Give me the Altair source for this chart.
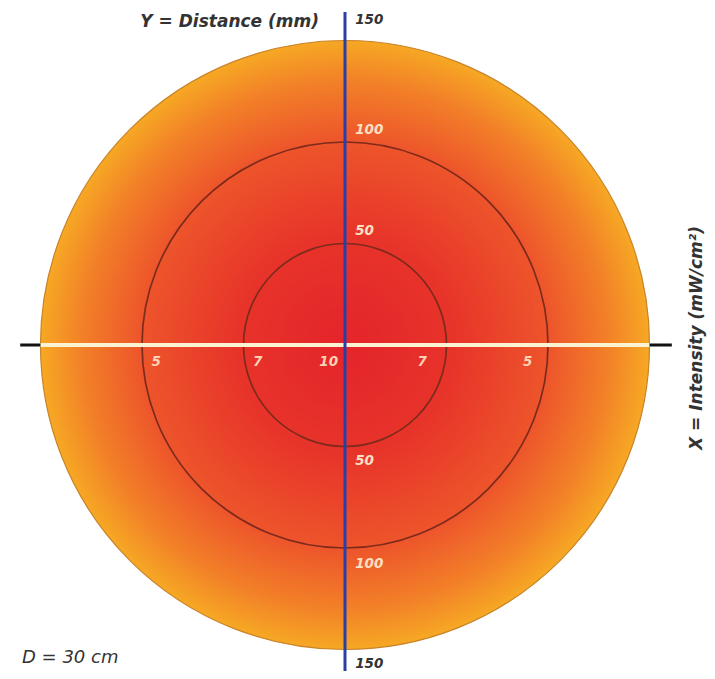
import altair as alt
import pandas as pd

# ---- data ----
outer_radius_mm = [150]
contour_radius_mm = [50, 100]

y_labels = ["150", "100", "50", "50", "100", "150"]
y_label_mm = [160, 106, 56, -57, -108, -157]

x_labels = ["5", "7", "10", "7", "5"]
x_label_mm = [-93, -43, -8, 38, 90]
x_label_row_mm = -8.5

axis_v = {"y1": [164], "y2": [-166]}
axis_h_black = {"x1": [-160], "x2": [161]}
axis_h_white = {"x1": [-150], "x2": [150]}

# ---- scales ----
S = 2.03  # px per mm
W, H = 699, 663
cx, cy = 337, 337
xs = alt.Scale(domain=[-cx / S, (W - cx) / S], range=[0, W], nice=False, zero=False)
ys = alt.Scale(domain=[-(H - cy) / S, cy / S], range=[H, 0], nice=False, zero=False)
rs = alt.Scale(type="linear", domain=[0, 150], range=[0, 150 * S], zero=True)

X = lambda f: alt.X(f, type="quantitative", scale=xs, axis=None)
Y = lambda f: alt.Y(f, type="quantitative", scale=ys, axis=None)

disk_df = pd.DataFrame({"x": [0], "y": [0], "r": outer_radius_mm})
ring_df = pd.DataFrame({"x": [0] * len(contour_radius_mm), "y": [0] * len(contour_radius_mm), "r": contour_radius_mm})

grad = {
    "gradient": "radial",
    "x1": 0.5, "y1": 0.5, "r1": 0,
    "x2": 0.5, "y2": 0.5, "r2": 0.5,
    "stops": [
        {"offset": 0.0, "color": "#e4242a"},
        {"offset": 0.35, "color": "#e7332a"},
        {"offset": 0.67, "color": "#ed552b"},
        {"offset": 0.86, "color": "#f27f28"},
        {"offset": 1.0, "color": "#f6a824"},
    ],
}

disk = alt.Chart(disk_df).mark_arc(theta=0, theta2=6.2832, fill=grad, stroke="#c9832a", strokeWidth=1.2).encode(
    x=X("x"), y=Y("y"), radius=alt.Radius("r:Q", scale=rs, stack=None)
)
rings = alt.Chart(ring_df).mark_arc(theta=0, theta2=6.2832, fillOpacity=0, stroke="#7e2a1c", strokeWidth=1.7).encode(
    x=X("x"), y=Y("y"), radius=alt.Radius("r:Q", scale=rs, stack=None)
)

hb = alt.Chart(pd.DataFrame({**axis_h_black, "y": [0]})).mark_rule(color="#111111", strokeWidth=3).encode(
    x=X("x1"), x2="x2", y=Y("y")
)
hw = alt.Chart(pd.DataFrame({**axis_h_white, "y": [0]})).mark_rule(color="#fbf3d2", strokeWidth=4).encode(
    x=X("x1"), x2="x2", y=Y("y")
)
vb = alt.Chart(pd.DataFrame({**axis_v, "x": [0]})).mark_rule(color="#2b3ea6", strokeWidth=3).encode(
    x=X("x"), y=Y("y1"), y2="y2"
)

ylab_df = pd.DataFrame({"t": y_labels, "y": y_label_mm, "x": [5] * len(y_labels),
                        "c": ["out", "in", "in", "in", "in", "out"]})
ylab = alt.Chart(ylab_df).mark_text(font="DejaVu Sans", fontSize=13.5, fontStyle="italic", fontWeight="bold",
                                     align="left", baseline="middle").encode(
    x=X("x"), y=Y("y"), text="t:N",
    color=alt.Color("c:N", scale=alt.Scale(domain=["out", "in"], range=["#333333", "#fbe0c4"]), legend=None),
)
xlab_df = pd.DataFrame({"t": x_labels, "x": x_label_mm, "y": [x_label_row_mm] * len(x_labels)})
xlab = alt.Chart(xlab_df).mark_text(font="DejaVu Sans", fontSize=13.5, fontStyle="italic", fontWeight="bold",
                                     align="center", baseline="middle", color="#fbd2b4").encode(
    x=X("x"), y=Y("y"), text="t:N"
)

ytitle = alt.Chart(pd.DataFrame({"t": ["Y = Distance (mm)"]})).mark_text(
    font="DejaVu Sans", fontSize=17, fontStyle="italic", fontWeight="bold",
    align="right", baseline="middle", color="#333333").encode(
    x=alt.value(311), y=alt.value(14), text="t:N"
)
xtitle = alt.Chart(pd.DataFrame({"t": ["X = Intensity (mW/cm²)"]})).mark_text(
    font="DejaVu Sans", fontSize=17, fontStyle="italic", fontWeight="bold",
    align="center", baseline="middle", color="#333333", angle=270).encode(
    x=alt.value(689), y=alt.value(330), text="t:N"
)
dnote = alt.Chart(pd.DataFrame({"t": ["D = 30 cm"]})).mark_text(
    font="DejaVu Sans", fontSize=18, fontStyle="italic", align="left", baseline="middle", color="#333333").encode(
    x=alt.value(14), y=alt.value(650), text="t:N"
)

chart = alt.layer(disk, rings, hb, hw, vb, ylab, xlab, ytitle, xtitle, dnote).properties(
    width=W, height=H, padding=0, autosize=alt.AutoSizeParams(type="none")
).configure_view(stroke=None)

chart.save("out.html", embed_options={"renderer": "svg", "actions": False})
